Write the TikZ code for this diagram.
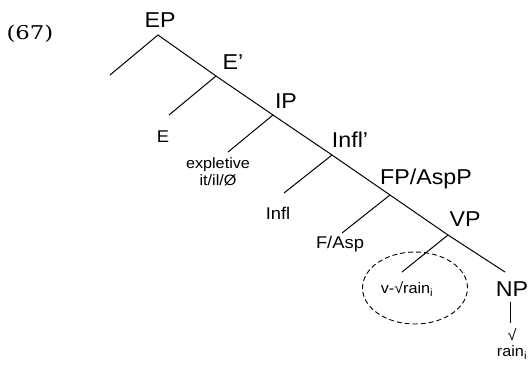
\documentclass[tikz,border=0pt]{standalone}
\usepackage{fontspec}
\setmainfont[FakeStretch=1.08]{Liberation Sans}
\newfontfamily\exfont[FakeStretch=1.2]{DejaVu Serif}
\usetikzlibrary{shapes.geometric}
\begin{document}
\begin{tikzpicture}[x=1pt,y=-1pt,
  br/.style={line width=1pt},
  big/.style={font=\fontsize{21.5}{23}\selectfont, inner sep=0pt},
  mid/.style={font=\fontsize{17}{19}\selectfont, inner sep=0pt},
  small/.style={font=\fontsize{15}{16.5}\selectfont, inner sep=0pt, align=center},
  circ/.style={draw, ellipse, line width=0.9pt, dash pattern=on 5pt off 3pt, minimum width=105pt, minimum height=72pt, inner sep=0pt}]
\useasboundingbox (0,0) rectangle (530,365);
\node[font=\exfont\fontsize{19}{21}\selectfont, inner sep=0pt] (ex) at (30,34) {(67)};
% junctions
\coordinate (j0) at (158,35);
\coordinate (spec) at (110,75);
\coordinate (j1) at (216,76);
\coordinate (j2) at (273,115);
\coordinate (j3) at (332,155);
\coordinate (j4) at (390,195);
\coordinate (j5) at (448,235);
\coordinate (eend) at (169,115);
\coordinate (expend) at (228,152);
\coordinate (inflend) at (284,193);
\coordinate (fend) at (342,233);
\coordinate (vend) at (402,272);
\coordinate (npend) at (505,272);
\coordinate (nptop) at (510,302);
\coordinate (npbot) at (510,323);
% labels
\node[big] (ep) at (160,20) {EP};
\node[big] (ebar) at (233,62) {E’};
\node[big] (ip) at (286,101) {IP};
\node[big] (inflbar) at (350,140) {Infl’};
\node[big] (fp) at (426,179) {FP/AspP};
\node[big] (vp) at (465,219) {VP};
\node[big] (np) at (512,289) {NP};
\node[mid] (e) at (163,137) {E};
\node[small] (expl) at (218,172) {expletive\\it/il/Ø};
\node[mid] (infl) at (278,213) {Infl};
\node[mid] (fasp) at (340,244) {F/Asp};
\node[small] (vrain) at (407,289) {v-√rain\textsubscript{i}};
\node[small] (root) at (512,344) {√\\rain\textsubscript{i}};
\node[circ] (ell) at (415,288) {};
% branches
\draw[br] (spec) -- (j0) -- (j1) -- (j2) -- (j3) -- (j4) -- (j5) -- (npend);
\draw[br] (j1) -- (eend);
\draw[br] (j2) -- (expend);
\draw[br] (j3) -- (inflend);
\draw[br] (j4) -- (fend);
\draw[br] (j5) -- (vend);
\draw[line width=0.8pt] (nptop) -- (npbot);
\end{tikzpicture}
\end{document}
